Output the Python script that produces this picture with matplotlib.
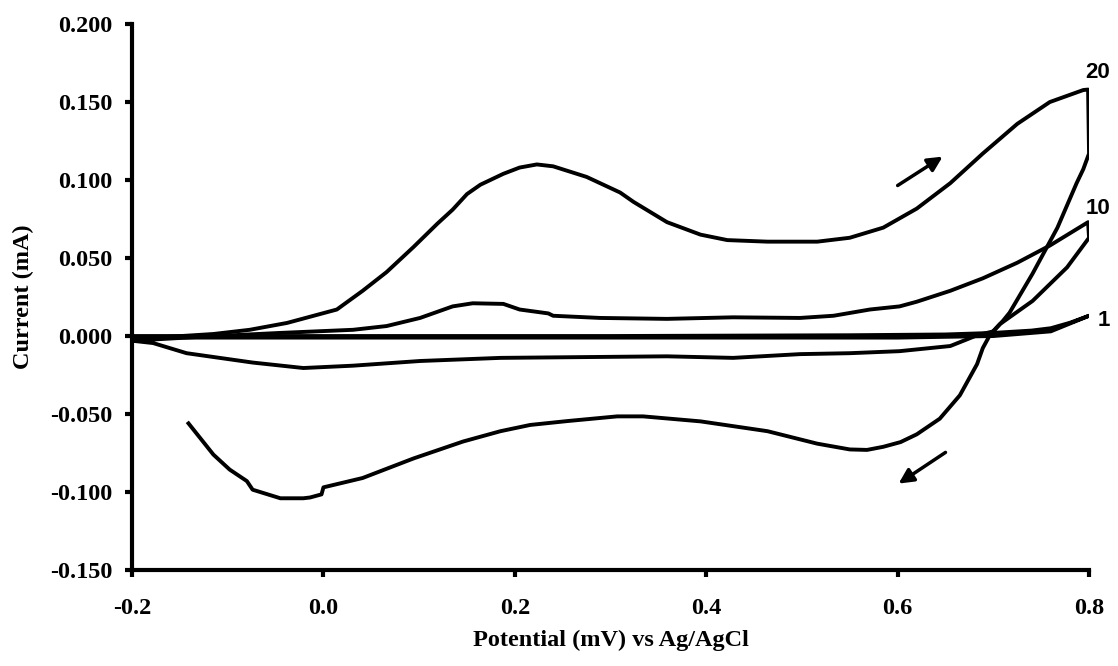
import matplotlib
matplotlib.use("Agg")
import matplotlib.pyplot as plt

# cycle 20 (forward / reverse scan)
v20_fwd = [-0.200, -0.115, -0.077, -0.038, 0.014, 0.041, 0.066, 0.094, 0.119, 0.135,
           0.150, 0.164, 0.188, 0.205, 0.223, 0.240, 0.275, 0.310, 0.324, 0.359, 0.394,
           0.422, 0.464, 0.516, 0.550, 0.585, 0.620, 0.655, 0.689, 0.725, 0.759,
           0.794, 0.799]
i20_fwd = [-0.002, 0.0013, 0.004, 0.0084, 0.017, 0.029, 0.041, 0.057, 0.072, 0.081,
           0.091, 0.097, 0.104, 0.108, 0.110, 0.1088, 0.102, 0.092, 0.086, 0.073, 0.065,
           0.0615, 0.0605, 0.0605, 0.063, 0.0695, 0.0817, 0.098, 0.117, 0.136, 0.150,
           0.1577, 0.158]
v20_rev = [0.800, 0.794, 0.787, 0.767, 0.741, 0.717, 0.710, 0.697, 0.689, 0.683, 0.665,
           0.644, 0.620, 0.603, 0.585, 0.568, 0.550, 0.516, 0.464, 0.394, 0.334,
           0.307, 0.255, 0.216, 0.185, 0.146, 0.094, 0.041, 0.000, -0.002, -0.014,
           -0.021, -0.045, -0.074, -0.080, -0.098, -0.115, -0.141]
i20_rev = [0.117, 0.107, 0.098, 0.0695, 0.040, 0.015, 0.0097, 0.0013, -0.0077, -0.018, -0.038,
           -0.053, -0.063, -0.068, -0.071, -0.0730, -0.0727, -0.0690, -0.061, -0.0547, -0.0515,
           -0.0515, -0.0545, -0.057, -0.061, -0.0676, -0.0785, -0.091, -0.097, -0.1015, -0.1035,
           -0.104, -0.104, -0.0985, -0.093, -0.0856, -0.076, -0.056]

# cycle 10
v10_fwd = [-0.200, -0.129, -0.045, 0.031, 0.066, 0.101, 0.135, 0.156, 0.188, 0.205,
           0.235, 0.240, 0.289, 0.359, 0.428, 0.498, 0.533, 0.571, 0.602, 0.620,
           0.655, 0.689, 0.725, 0.759, 0.799]
i10_fwd = [-0.003, -0.0005, 0.002, 0.004, 0.0064, 0.0116, 0.019, 0.021, 0.0206, 0.017,
           0.0145, 0.013, 0.0116, 0.011, 0.012, 0.0116, 0.013, 0.017, 0.019, 0.022,
           0.029, 0.037, 0.047, 0.058, 0.073]
v10_rev = [0.800, 0.777, 0.741, 0.707, 0.700, 0.683, 0.673, 0.655, 0.602, 0.550,
           0.498, 0.428, 0.359, 0.185, 0.101, 0.031, -0.021, -0.074, -0.143, -0.178, -0.200]
i10_rev = [0.063, 0.044, 0.0225, 0.0077, 0.003, 0.0005, -0.002, -0.0064, -0.0097, -0.011,
           -0.0116, -0.014, -0.013, -0.014, -0.016, -0.019, -0.0205, -0.017, -0.011, -0.0045, -0.003]

# cycle 1
v1_fwd = [-0.200, 0.000, 0.300, 0.550, 0.650, 0.700, 0.740, 0.760, 0.780, 0.800]
i1_fwd = [0.000, 0.000, 0.000, 0.0005, 0.001, 0.002, 0.0035, 0.005, 0.0085, 0.013]
v1_rev = [0.800, 0.760, 0.700, 0.600, 0.300, -0.200]
i1_rev = [0.013, 0.003, 0.000, -0.001, -0.001, -0.001]

cycle_labels = ["20", "10", "1"]
label_pos = [(0.809, 0.169), (0.809, 0.0817), (0.815, 0.0097)]

xticks = [-0.2, 0.0, 0.2, 0.4, 0.6, 0.8]
yticks = [-0.150, -0.100, -0.050, 0.000, 0.050, 0.100, 0.150, 0.200]

serif = "Liberation Serif"
sans = "Liberation Sans"

fig = plt.figure(figsize=(11.18, 6.66), dpi=100)
ax = fig.add_axes([0.1181, 0.1441, 0.856, 0.8198])

lw = 2.8
ax.plot(v20_fwd + v20_rev, i20_fwd + i20_rev, color="black", lw=lw, solid_joinstyle="round")
ax.plot(v10_fwd + v10_rev, i10_fwd + i10_rev, color="black", lw=lw, solid_joinstyle="round")
ax.plot(v1_fwd + v1_rev, i1_fwd + i1_rev, color="black", lw=lw, solid_joinstyle="round")

for txt, (x, y) in zip(cycle_labels, label_pos):
    ax.text(x, y, txt, fontsize=16, fontweight="bold", family=sans,
            ha="center", va="center", clip_on=False)

# scan direction arrows
arrow = dict(arrowstyle="-|>", color="black", lw=2.5, mutation_scale=22, shrinkA=0, shrinkB=0)
ax.annotate("", xy=(0.647, 0.115), xytext=(0.600, 0.0965), arrowprops=arrow)
ax.annotate("", xy=(0.601, -0.0946), xytext=(0.650, -0.0746), arrowprops=arrow)

ax.set_xlim(-0.2, 0.8)
ax.set_ylim(-0.15, 0.2)
ax.set_xticks(xticks)
ax.set_xticklabels([f"{t:.1f}" for t in xticks])
ax.set_yticks(yticks)
ax.set_yticklabels([f"{t:.3f}" for t in yticks])

for s in ["top", "right"]:
    ax.spines[s].set_visible(False)
for s in ["left", "bottom"]:
    ax.spines[s].set_linewidth(3)

ax.tick_params(axis="both", direction="out", length=5, width=3)
ax.tick_params(axis="x", pad=15)
ax.tick_params(axis="y", pad=9)
for lab in ax.get_xticklabels() + ax.get_yticklabels():
    lab.set_family(serif)
    lab.set_fontweight("bold")
    lab.set_fontsize(17.5)

ax.set_xlabel("Potential (mV) vs Ag/AgCl", family=serif, fontweight="bold", fontsize=17.5, labelpad=8)
ax.set_ylabel("Current (mA)", family=serif, fontweight="bold", fontsize=17.5, labelpad=12)

fig.savefig("out.png", dpi=100)
